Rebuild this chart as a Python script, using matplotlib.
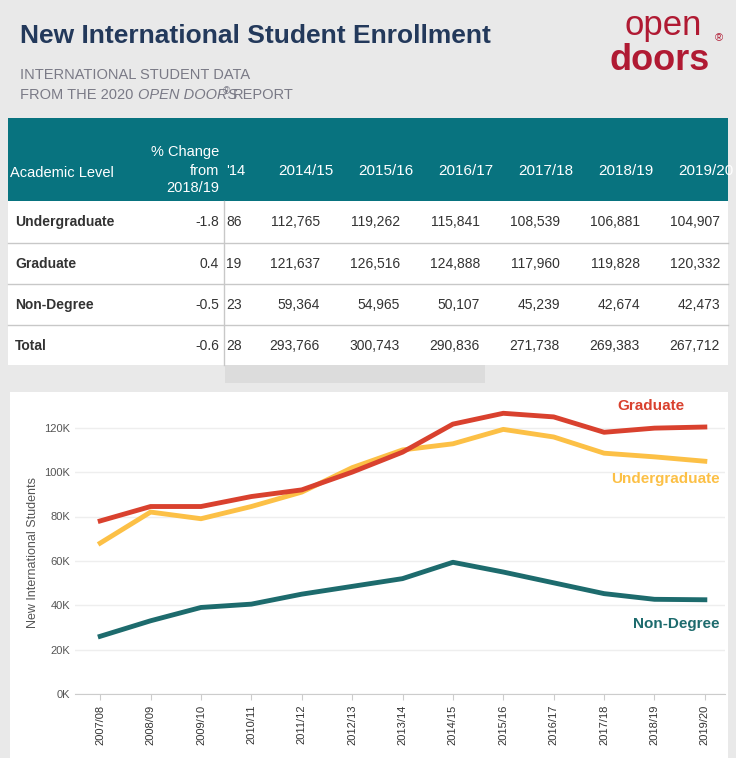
import matplotlib.pyplot as plt
from matplotlib.patches import Rectangle

plt.rcParams["font.family"] = "Liberation Sans"

W, H = 736, 758

years = ["2007/08", "2008/09", "2009/10", "2010/11", "2011/12", "2012/13", "2013/14",
         "2014/15", "2015/16", "2016/17", "2017/18", "2018/19", "2019/20"]
graduate = [78000, 84500, 84500, 89000, 92000, 100000, 109000,
            121637, 126516, 124888, 117960, 119828, 120332]
undergraduate = [68000, 82000, 79000, 84500, 91000, 102000, 110000,
                 112765, 119262, 115841, 108539, 106881, 104907]
non_degree = [26000, 33000, 39000, 40500, 45000, 48500, 52000,
              59364, 54965, 50107, 45239, 42674, 42473]

table_cols = ["2014/15", "2015/16", "2016/17", "2017/18", "2018/19", "2019/20"]
table_rows = ["Undergraduate", "Graduate", "Non-Degree", "Total"]
pct_change = ["-1.8", "0.4", "-0.5", "-0.6"]
cut_prev = ["86", "19", "23", "28"]
table_vals = [
    ["112,765", "119,262", "115,841", "108,539", "106,881", "104,907"],
    ["121,637", "126,516", "124,888", "117,960", "119,828", "120,332"],
    ["59,364", "54,965", "50,107", "45,239", "42,674", "42,473"],
    ["293,766", "300,743", "290,836", "271,738", "269,383", "267,712"],
]

TEAL = "#08737f"
RED = "#d9412e"
YEL = "#fcc046"
DTEAL = "#1d6b6d"
NAVY = "#23395b"


def fx(x):
    return x / W


def fy(y):
    return 1 - y / H


def rect(x, y, w, h, color):
    fig.patches.append(Rectangle((fx(x), fy(y + h)), w / W, h / H, transform=fig.transFigure,
                                 facecolor=color, edgecolor="none", zorder=-1))


fig = plt.figure(figsize=(W / 100, H / 100), dpi=100)
fig.patch.set_facecolor("#e9e9e9")

# header
fig.text(fx(20), fy(36), "New International Student Enrollment", fontsize=19, fontweight="bold",
         color=NAVY, va="center")
grey = "#7a7a86"
fig.text(fx(20), fy(75), "INTERNATIONAL STUDENT DATA", fontsize=10.5, color=grey, va="center")
fig.text(fx(20), fy(95), "FROM THE 2020", fontsize=10.5, color=grey, va="center")
fig.text(fx(138), fy(95), "OPEN DOORS", fontsize=10.5, color=grey, va="center", style="italic")
fig.text(fx(223), fy(91), "®", fontsize=7, color=grey, va="center", style="italic")
fig.text(fx(233), fy(95), "REPORT", fontsize=10.5, color=grey, va="center")
fig.text(fx(663), fy(26), "open", fontsize=25, color="#b01a33", va="center", ha="center")
fig.text(fx(660), fy(60), "doors", fontsize=26, fontweight="bold", color="#b01a33", va="center", ha="center")
fig.text(fx(719), fy(38), "®", fontsize=8, color="#b01a33", va="center", ha="center")

# table
rect(8, 118, 720, 83, TEAL)
rect(8, 201, 720, 164, "white")
rect(225, 365, 260, 18, "#dcdcdc")
fig.text(fx(10), fy(173), "Academic Level", fontsize=10.5, color="white", va="center")
fig.text(fx(219), fy(152), "% Change", fontsize=10.5, color="white", va="center", ha="right")
fig.text(fx(219), fy(171), "from", fontsize=10.5, color="white", va="center", ha="right")
fig.text(fx(219), fy(188), "2018/19", fontsize=10.5, color="white", va="center", ha="right")
fig.text(fx(226), fy(171), "'14", fontsize=10.5, color="white", va="center")
col_x = [306, 386, 466, 546, 626, 706]
for cx, c in zip(col_x, table_cols):
    fig.text(fx(cx), fy(171), c, fontsize=11, color="white", va="center", ha="center")
row_y = [222, 264, 305, 346]
for i, (ry, name) in enumerate(zip(row_y, table_rows)):
    fig.text(fx(15), fy(ry), name, fontsize=10, fontweight="bold", color="#333333", va="center")
    fig.text(fx(219), fy(ry), pct_change[i], fontsize=10, color="#333333", va="center", ha="right")
    fig.text(fx(226), fy(ry), cut_prev[i], fontsize=10, color="#333333", va="center")
    for cx, v in zip(col_x, table_vals[i]):
        fig.text(fx(cx + 14), fy(ry), v, fontsize=10, color="#333333", va="center", ha="right")
for ly in [243, 284, 325]:
    fig.lines.append(plt.Line2D([fx(8), fx(728)], [fy(ly), fy(ly)], transform=fig.transFigure,
                                color="#c8c8c8", lw=1))
fig.lines.append(plt.Line2D([fx(224), fx(224)], [fy(201), fy(365)], transform=fig.transFigure,
                            color="#c8c8c8", lw=1))

# chart panel
rect(10, 392, 718, 366, "white")
ax = fig.add_axes([fx(75), fy(694), 650 / W, (694 - 410) / H])
ax.set_zorder(3)
ax.patch.set_alpha(0)
x = list(range(len(years)))
ax.plot(x, undergraduate, color=YEL, lw=3.5)
ax.plot(x, graduate, color=RED, lw=3.5)
ax.plot(x, non_degree, color=DTEAL, lw=3.5)
ax.set_xlim(-0.5, 12.4)
ax.set_ylim(0, 128000)
ax.set_yticks(range(0, 120001, 20000))
ax.set_yticklabels([f"{v // 1000}K" for v in range(0, 120001, 20000)], fontsize=8, color="#555555")
ax.set_xticks(x)
ax.set_xticklabels(years, rotation=90, fontsize=8, color="#333333")
ax.tick_params(length=0)
ax.tick_params(axis="x", length=4, color="#cccccc")
ax.grid(axis="y", color="#eeeeee", lw=1)
ax.set_axisbelow(True)
for s in ax.spines.values():
    s.set_visible(False)
ax.spines["bottom"].set_visible(True)
ax.spines["bottom"].set_color("#cccccc")
ax.set_ylabel("New International Students", fontsize=9, color="#555555")
ax.text(11.6, 130000, "Graduate", color=RED, fontsize=11, fontweight="bold", ha="right", va="center")
ax.text(12.3, 97000, "Undergraduate", color=YEL, fontsize=11, fontweight="bold", ha="right", va="center")
ax.text(12.3, 31500, "Non-Degree", color=DTEAL, fontsize=11, fontweight="bold", ha="right", va="center")

fig.savefig("out.png", dpi=100, facecolor=fig.get_facecolor())
